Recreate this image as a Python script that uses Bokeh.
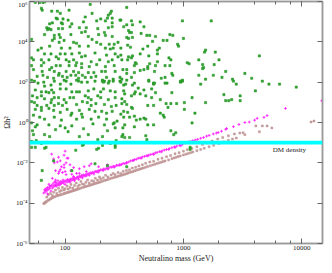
import numpy as np
from bokeh.plotting import figure
from bokeh.models import (LogAxis, FixedTicker, LogTicker, CustomJSTickFormatter,
                          BoxAnnotation, Label, ColumnDataSource)
from bokeh.embed import file_html
from bokeh.resources import INLINE

# ---------------- data ----------------
x_limits = (50, 15000)
y_limits = (1e-6, 1e6)
y_ticks = [1e-6, 1e-4, 1e-2, 1, 1e2, 1e4, 1e6]
dm_low, dm_high = 0.08, 0.125
dm_text = "DM density"
dm_text_pos = (5700, 0.042)
x_title = "Neutralino mass (GeV)"
y_title = "\u03a9h\u00b2"

green_points = [
    (56,9.0e5),(61,9.0e5),(65,9.0e5),(67,9.5e5),(63,4.6e5),(64,3.7e5),(77,3.3e5),(86,3.3e5),(91,2.6e5),(108,3.7e5),(163,7.2e5),(169,2.6e5),(246,3.3e5),(241,2.6e5),(232,2.1e5),
    (84,1.5e5),(86,1.36e5),(96,1.36e5),(106,1.2e5),(148,1.7e5),(200,1.36e5),(228,1.5e5),(250,1.5e5),(296,1.2e5),
    (74,7.8e4),(78,8.7e4),(93,8.7e4),(95,7.8e4),(114,7.8e4),(143,9.7e4),(185,1.09e5),(219,1.09e5),(250,8.7e4),
    (70,5.0e4),(71,4.0e4),(73,4.5e4),(76,4.0e4),(88,4.5e4),(95,4.5e4),(110,5.6e4),(132,5.0e4),(151,5.0e4),(189,4.5e4),(232,5.0e4),(250,5.6e4),(313,5.6e4),
    (67,2.3e4),(81,2.1e4),(89,2.3e4),(91,1.65e4),(112,2.3e4),(138,2.9e4),(148,3.2e4),(157,1.84e4),(192,2.3e4),(215,2.9e4),(219,2.1e4),(250,1.84e4),
    (52,1.32e4),(78,1.18e4),(81,1.47e4),(89,9.5e3),(98,1.18e4),(118,9.5e3),(125,8.5e3),(169,1.32e4),(185,9.5e3),(200,7.6e3),(236,7.6e3),(260,7.6e3),(280,9.5e3),
    (63,4.9e3),(74,6.1e3),(93,4.9e3),(110,4.9e3),(132,6.1e3),(157,6.1e3),(219,4.9e3),(241,4.4e3),(255,4.9e3),(296,4.9e3),
    (59,3.9e3),(67,2.5e3),(76,2.5e3),(84,1.8e3),(91,2.5e3),(100,2.5e3),(114,2.5e3),(132,2.8e3),(138,1.8e3),(148,2.0e3),(179,2.8e3),(224,2.2e3),(265,2.5e3),(280,1.8e3),
    (52,1.6e3),(54,1.28e3),(63,1.28e3),(66,920),(73,1.28e3),(88,1.44e3),(102,1.28e3),(108,1.03e3),(118,1.28e3),(125,920),(138,820),(166,1.03e3),(196,1.28e3),(232,1.03e3),(250,1.28e3),(302,1.28e3),
    (52,660),(63,660),(77,530),(84,660),(91,660),(108,660),(123,660),(138,530),(160,590),(185,740),(219,590),(260,660),
    (54,420),(64,340),(74,420),(81,340),(89,270),(102,340),(118,340),(130,300),(157,300),(175,300),(204,340),(219,340),(265,340),(308,420),
    (58,195),(65,220),(71,174),(80,156),(88,220),(95,195),(104,174),(112,220),(123,220),(130,156),(140,220),(148,174),(166,174),(182,195),(207,112),(224,174),(255,140),(291,174),
    (55,112),(66,100),(102,112),(130,112),(215,112),(236,112),
    (332,5.1e5),(291,1.2e5),(332,7.0e4),(364,1.09e5),(371,7.0e4),(431,9.7e4),(464,5.6e4),(981,1.09e5),(1720,1.09e5),
    (344,3.6e4),(351,2.9e4),(364,2.9e4),(332,1.65e4),(344,1.47e4),(371,1.65e4),(439,2.6e4),(491,2.1e4),(519,2.1e4),(581,1.84e4),(769,2.3e4),(814,2.1e4),(1000,1.47e4),
    (338,6.8e3),(357,5.4e3),(500,6.1e3),(549,1.06e4),(675,1.18e4),(727,1.18e4),(894,7.6e3),(910,6.1e3),
    (296,2.2e3),(344,1.8e3),(364,1.6e3),(371,2.0e3),(431,2.5e3),(455,4.4e3),(510,2.0e3),(603,3.9e3),(626,4.9e3),(603,2.5e3),(755,1.6e3),(784,1.28e3),(1510,3.1e3),(1540,3.9e3),(1860,3.1e3),
    (338,1.28e3),(385,660),(392,920),(400,820),(500,590),(519,820),(581,660),(603,1.03e3),(700,660),(769,660),(1078,920),(1119,820),(1350,1.28e3),(1455,740),(1820,740),(1480,530),
    (332,420),(332,270),(385,300),(431,380),(464,420),(500,470),(570,340),(799,270),(814,220),(1350,220),(1790,220),
    (302,140),(364,174),(510,112),(650,156),(700,174),(981,112),(945,100),(1540,140),(560,90),(727,90),
    (1455,470),(2000,1.28e3),(4390,2.0e3),(2280,340),(2120,174),(2600,140),(2650,112),(3310,270),(2800,80),(3780,156),(4650,112),(5290,80),(6500,80),(1400,80),(4060,37),(2200,24),(3020,21),(9000,57),(2280,12.1),(2420,12.1),(2560,13.6),(3020,12.1),(1540,9.7),
    (52,125),(59,90),(67,64),(76,72),(81,112),(91,80),(98,125),(112,80),(125,125),(138,100),(154,100),(179,112),(207,125),(211,100),(232,90),(255,112),(291,112),(313,72),
    (56,41),(63,33),(69,33),(73,30),(77,41),(80,30),(91,46),(102,46),(114,33),(125,33),(132,33),(157,37),(175,46),(200,33),(211,46),(241,37),(265,33),(313,37),
    (53,21),(58,17),(63,21),(67,15),(77,13.6),(81,17),(88,17),(98,13.6),(110,17),(118,17),(148,21),(157,17),(166,13.6),(189,21),(200,17),(232,13.6),(265,17),(302,15),
    (52,10.9),(55,9.7),(58,7.0),(63,5.6),(70,7.0),(76,9.7),(81,7.0),(88,8.7),(95,7.0),(102,9.7),(125,7.8),(140,10.9),(154,9.7),(166,7.0),(182,8.7),(215,7.8),(246,6.2),(270,7.0),
    (56,4.5),(63,4.0),(73,5.0),(80,4.0),(91,3.2),(104,4.5),(114,2.9),(132,4.0),(138,2.6),(160,4.5),(179,3.6),(204,3.6),(224,2.9),(250,3.6),(296,2.6),
    (54,2.3),(61,1.84),(67,1.47),(81,1.84),(93,1.32),(112,2.3),(125,1.47),(140,1.84),(166,1.47),(192,1.84),(224,1.47),(260,0.95),(275,1.18),(313,1.84),
    (52,0.95),(56,0.61),(58,0.76),(73,0.76),(91,0.68),(100,0.54),(114,0.68),(143,0.49),(172,0.85),(215,0.76),(255,0.85),(265,0.54),(228,0.39),
    (53,0.39),(54,0.25),(67,0.25),(74,0.20),(83,0.44),(106,0.35),(132,0.20),(157,0.25),(207,0.20),(189,0.14),(319,0.18),(270,0.128),
    (52,0.115),(57,0.128),(70,0.103),(95,0.103),(143,0.082),(241,0.092),(313,0.103),
    (52,0.059),(67,0.053),(192,0.053),(207,0.074),(265,0.059),(123,0.042),
    (296,100),(325,80),(332,125),(371,72),(385,90),(415,51),(464,41),(510,125),(539,46),(560,80),(570,90),(700,90),(945,112),(981,125),
    (319,26),(364,21),(385,26),(392,33),(431,26),(481,21),(539,17),(581,30),(799,30),(1184,17),
    (302,8.7),(319,10.9),(332,7.8),(364,5.6),(371,5.0),(500,7.0),(560,7.0),(638,13.6),(714,8.7),(784,8.7),(877,8.7),(1019,9.7),(741,5.6),
    (313,3.6),(338,3.2),(351,1.84),(385,2.06),(400,1.32),(431,1.47),(464,1.65),(481,1.47),(638,2.9),(675,2.3),(688,1.84),(1252,2.9),(1184,0.95),
    (308,0.54),(319,0.76),(385,0.61),(500,0.76),(560,0.76),(784,0.39),
    (308,0.25),(302,0.20),(351,0.18),(491,0.14),(829,0.25),(861,0.31),(332,0.103),(1140,0.059),(1140,0.047),
    (63,0.092),(69,0.059),(56,0.059),(140,0.074),(185,0.047),(265,0.074),(80,0.0125),(64,0.0041),(63,0.00136),(114,0.0041),(179,0.009),(228,0.0072),(332,0.0064),(481,0.22),(1019,4.5),
]

magenta_points = [
    (66,3.2e-4),(67,4.5e-4),(68,3.6e-4),(69,5.2e-4),(70,4.1e-4),(71,2.9e-4),(71,6.0e-4),(72,4.8e-4),(73,8.7e-4),(74,5.5e-4),(75,6.8e-4),(76,4.0e-4),(77,7.5e-4),(78,5.6e-4),(78,1.7e-3),(79,9.0e-4),
    (80,6.5e-4),(81,1.1e-3),(82,7.5e-4),(83,8.2e-4),(84,6.9e-4),(85,1.0e-3),(86,8.0e-4),(87,1.3e-3),(88,9.0e-4),(89,7.8e-4),(90,1.05e-3),(91,8.7e-4),(92,1.2e-3),(93,9.5e-4),(95,1.1e-3),(96,1.4e-3),
    (97,1.0e-3),(98,1.25e-3),(100,1.15e-3),(102,1.35e-3),(104,1.1e-3),(105,1.5e-3),(107,1.3e-3),(108,1.2e-3),(110,1.45e-3),(112,1.6e-3),(114,1.35e-3),(116,1.7e-3),(118,1.5e-3),(120,1.8e-3),(122,1.6e-3),
    (125,1.75e-3),(127,2.0e-3),(130,1.85e-3),(132,2.2e-3),(135,2.0e-3),(138,2.4e-3),(140,2.15e-3),(143,2.5e-3),(146,2.3e-3),(150,2.7e-3),(153,2.5e-3),(156,2.9e-3),(160,2.8e-3),(163,3.2e-3),(167,3.0e-3),
    (170,3.4e-3),(175,3.3e-3),(180,3.8e-3),(184,3.6e-3),(190,4.1e-3),(195,4.0e-3),(200,4.5e-3),(206,4.4e-3),(212,5.0e-3),(218,4.8e-3),(225,5.5e-3),(232,5.4e-3),(240,6.2e-3),(248,6.0e-3),(255,6.8e-3),
    (263,6.6e-3),(272,7.6e-3),(280,7.4e-3),(290,8.4e-3),(300,8.2e-3),(310,9.4e-3),(320,9.2e-3),(332,1.05e-2),(345,1.1e-2),(358,1.25e-2),(372,1.3e-2),(385,1.45e-2),(400,1.5e-2),(415,1.7e-2),(430,1.75e-2),
    (450,1.95e-2),(470,2.1e-2),(490,2.25e-2),(510,2.4e-2),(530,2.6e-2),(555,2.8e-2),(580,3.1e-2),(600,3.3e-2),(630,3.6e-2),(660,3.9e-2),(690,4.3e-2),(720,4.6e-2),(760,5.1e-2),(800,5.6e-2),(840,6.2e-2),
    (880,6.8e-2),(930,7.5e-2),(980,8.3e-2),(1040,0.095),(1100,0.105),(1140,0.115),(1200,0.125),(1260,0.135),(1320,0.145),(1400,0.165),(1480,0.18),(1570,0.21),(1650,0.23),(1790,0.27),(1900,0.30),
    (1970,0.32),(2100,0.37),(2280,0.46),(2320,0.50),(2650,0.62),(2950,0.80),(3310,1.0),(3600,1.05),(4000,1.3),(4200,1.6),(4800,1.8),(5100,2.2),(7300,5.0),(14800,12),
    (100,8.5e-4),(110,1.1e-3),(120,1.3e-3),(130,1.5e-3),(140,1.8e-3),(150,2.2e-3),(160,2.4e-3),(175,2.8e-3),(190,3.4e-3),(210,4.2e-3),(230,4.9e-3),(260,6.1e-3),(290,7.6e-3),(330,9.6e-3),(380,1.3e-2),
    (440,1.7e-2),(500,2.2e-2),(560,2.6e-2),(650,3.5e-2),(750,4.6e-2),(850,5.8e-2),(950,7.0e-2),
    (77,0.027),(88,0.019),(98,0.024),(106,0.017),(91,0.0125),(110,0.008),(98,0.008),(83,0.0041),(88,0.0030),(95,0.0033),(102,0.0026),(118,0.0021),(125,0.0030),(132,0.0051),(145,0.0064),
    (160,0.0072),(166,0.009),(192,0.0064),(228,0.008),(80,0.0156),(81,0.010),(100,0.038),(104,0.017),(89,0.0037),(112,0.0041),(69,4.5e-4),
    (86,0.011),(93,0.0064),(100,0.0037),(114,0.0027),(83,1.1e-3),(74,7.0e-4),(91,0.0046),(98,0.0058),(102,0.010),(118,0.0058),(132,0.003),(151,0.0037),(108,0.0014),(83,0.0014),
]

brown_points = [
    (66,9.5e-5),(67,1.0e-4),(68,1.1e-4),(69,1.15e-4),(70,1.25e-4),(72,1.4e-4),(73,1.45e-4),(75,1.6e-4),(76,1.7e-4),(78,1.85e-4),(80,2.0e-4),(82,2.1e-4),(85,2.3e-4),(87,2.4e-4),(90,2.55e-4),
    (92,2.65e-4),(95,2.8e-4),(98,3.0e-4),(100,3.1e-4),(103,3.3e-4),(105,3.4e-4),(108,3.6e-4),(110,3.7e-4),(113,3.9e-4),(115,4.05e-4),(118,4.3e-4),(120,4.4e-4),(123,4.6e-4),(125,4.75e-4),(128,5.0e-4),
    (130,5.1e-4),(135,5.5e-4),(140,5.9e-4),(145,6.3e-4),(150,6.7e-4),(155,7.1e-4),(160,7.5e-4),(165,8.0e-4),(170,8.5e-4),(175,9.0e-4),(180,9.4e-4),(185,1.0e-3),(190,1.04e-3),(195,1.1e-3),(200,1.15e-3),
    (207,1.23e-3),(215,1.32e-3),(222,1.4e-3),(230,1.5e-3),(240,1.63e-3),(250,1.76e-3),(260,1.9e-3),(270,2.0e-3),(280,2.15e-3),(290,2.3e-3),(300,2.45e-3),(310,2.6e-3),(320,2.75e-3),(330,2.9e-3),
    (340,3.1e-3),(350,3.3e-3),(362,3.5e-3),(375,3.7e-3),(388,4.0e-3),(400,4.3e-3),(415,4.6e-3),(430,4.9e-3),(445,5.2e-3),(460,5.6e-3),(480,6.1e-3),(500,6.6e-3),(525,7.2e-3),(550,7.9e-3),(575,8.6e-3),
    (600,9.3e-3),(625,1.0e-2),(650,1.08e-2),(675,1.16e-2),(700,1.25e-2),(750,1.4e-2),(800,1.6e-2),(835,1.75e-2),(870,1.9e-2),(905,2.05e-2),(940,2.2e-2),(1000,2.45e-2),(1050,2.7e-2),(1100,2.9e-2),
    (1150,3.2e-2),(1200,3.45e-2),(1300,4.0e-2),(1400,4.6e-2),(1500,5.3e-2),(1650,6.3e-2),(1800,7.4e-2),(2000,9.1e-2),(2200,0.11),(2400,0.13),(2600,0.15),(2800,0.17),
    (70,2.0e-4),(72,2.6e-4),(75,3.0e-4),(78,2.4e-4),(80,3.5e-4),(83,4.5e-4),(85,3.0e-4),(88,5.5e-4),(90,3.8e-4),(93,4.2e-4),(95,6.0e-4),(98,4.5e-4),(100,5.2e-4),(104,7.0e-4),(106,5.0e-4),(110,6.0e-4),
    (112,8.5e-4),(116,5.6e-4),(120,7.5e-4),(124,1.0e-3),(128,6.8e-4),(132,8.0e-4),(136,1.2e-3),(140,9.0e-4),(145,8.5e-4),(150,1.1e-3),(155,1.4e-3),(160,1.0e-3),(168,1.3e-3),(175,1.2e-3),(180,1.7e-3),
    (188,1.4e-3),(195,2.0e-3),(200,1.6e-3),(210,1.8e-3),(220,2.4e-3),(230,2.0e-3),(245,2.5e-3),(255,3.0e-3),(265,2.6e-3),(280,3.3e-3),(295,3.0e-3),(310,3.8e-3),(330,4.2e-3),(350,4.5e-3),(370,5.5e-3),
    (395,6.0e-3),(420,7.0e-3),(450,8.0e-3),(480,9.5e-3),(520,1.1e-2),(560,1.2e-2),(610,1.5e-2),(660,1.7e-2),(720,2.0e-2),(780,2.3e-2),(850,2.8e-2),(920,3.2e-2),(1000,3.8e-2),(1080,4.5e-2),(1180,5.2e-2),
    (1300,6.2e-2),(1450,8.0e-2),(1600,0.095),(1750,0.12),(1950,0.15),(2150,0.18),(2400,0.22),(2700,0.27),(3000,0.30),(3200,0.31),(3310,0.25),(4100,0.68),(4390,0.35),(4650,0.68),(5100,0.68),(5600,0.54),
    (12000,1.06),(12700,1.18),
]

def to_source(points):
    arr = np.array(points, dtype=float)
    return ColumnDataSource(dict(mass=arr[:, 0], omega=arr[:, 1]))

# ---------------- figure ----------------
SERIF = "Liberation Serif"
AX = "#9a9a9a"
TXT = "#1a1a1a"

p = figure(width=324, height=265, x_axis_type="log", y_axis_type="log",
           x_range=x_limits, y_range=y_limits,
           output_backend="svg", toolbar_location=None,
           min_border_left=0, min_border_right=2, min_border_top=1, min_border_bottom=0)
p.grid.visible = False
p.outline_line_color = AX
p.outline_line_width = 1.5
p.background_fill_color = "white"

xax = p.xaxis[0]
xax.ticker = LogTicker()
xax.formatter = CustomJSTickFormatter(code="return tick.toFixed(0);")
xax.axis_label = x_title
yax = p.yaxis[0]
yax.ticker = FixedTicker(ticks=y_ticks, minor_ticks=[])
yax.formatter = CustomJSTickFormatter(code=r"""
const s = {"-":"\u207b","0":"\u2070","1":"\u00b9","2":"\u00b2","3":"\u00b3","4":"\u2074","5":"\u2075","6":"\u2076","7":"\u2077","8":"\u2078","9":"\u2079"};
const e = Math.round(Math.log10(tick));
return "10" + String(e).split("").map(c => s[c]).join("");
""")
yax.axis_label = y_title

for ax in (xax, yax):
    ax.axis_line_color = AX
    ax.axis_line_width = 1.5
    ax.major_tick_in = 5
    ax.major_tick_out = 0
    ax.minor_tick_in = 3
    ax.minor_tick_out = 0
    ax.major_tick_line_color = "#666666"
    ax.minor_tick_line_color = "#666666"
    ax.major_label_text_font = SERIF
    ax.major_label_text_font_size = "7px"
    ax.major_label_text_color = TXT
    ax.major_label_standoff = 2
    ax.axis_label_text_font = SERIF
    ax.axis_label_text_font_size = "8px"
    ax.axis_label_text_font_style = "normal"
    ax.axis_label_text_color = TXT
    ax.axis_label_standoff = 1

blank = CustomJSTickFormatter(code="return '';")
top = LogAxis(ticker=LogTicker(), formatter=blank, major_label_text_font_size="1px",
              major_label_standoff=0,
              major_tick_in=5, major_tick_out=0, minor_tick_in=3, minor_tick_out=0,
              axis_line_color=AX, axis_line_width=1.5,
              major_tick_line_color="#666666", minor_tick_line_color="#666666")
p.add_layout(top, "above")
right = LogAxis(ticker=FixedTicker(ticks=y_ticks, minor_ticks=[]), formatter=blank,
                major_label_text_font_size="1px",
                major_label_standoff=0, major_tick_in=5, major_tick_out=0, minor_tick_out=0,
                axis_line_color=AX, axis_line_width=1.5, major_tick_line_color="#666666")
p.add_layout(right, "right")

p.scatter("mass", "omega", source=to_source(brown_points), marker="square", size=2.0,
          fill_color="#c8a0a0", line_color="#b88888", line_width=0.4)
p.scatter("mass", "omega", source=to_source(magenta_points), marker="cross", size=2.8,
          line_color="#ff22ff", line_width=0.9)
p.scatter("mass", "omega", source=to_source(green_points), marker="square", size=2.2,
          fill_color="#3aaa3a", line_color="#158a15", line_width=0.5)

band = BoxAnnotation(bottom=dm_low, top=dm_high, fill_color="#00ffff", fill_alpha=1.0,
                     line_color=None)
p.add_layout(band)

p.add_layout(Label(x=dm_text_pos[0], y=dm_text_pos[1], text=dm_text, text_font=SERIF,
                   text_font_size="7px", text_baseline="middle", text_color=TXT))

open("out.html", "w").write(file_html(p, INLINE))
